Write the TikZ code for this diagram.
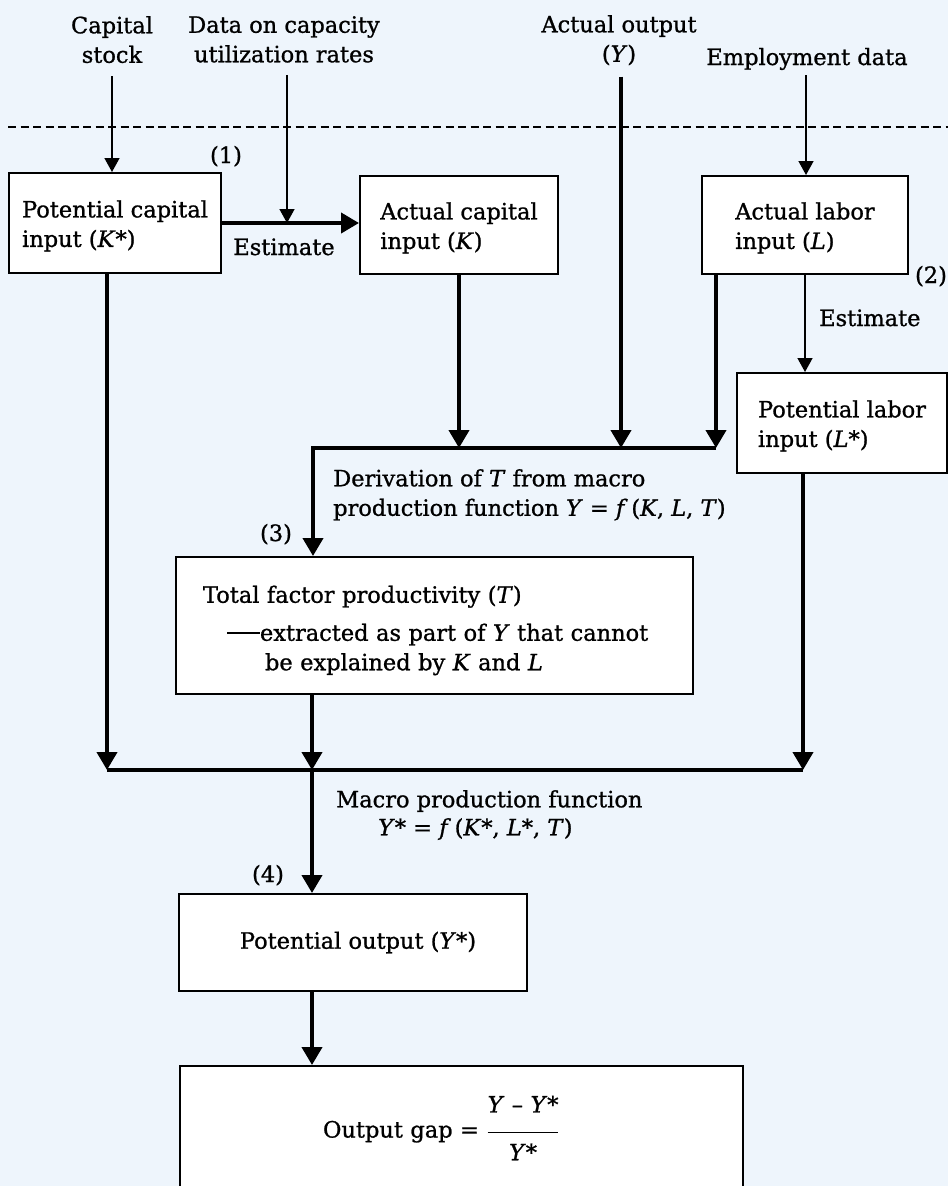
\documentclass[tikz,border=0pt]{standalone}
\usepackage{amsmath}
\usepackage{fontspec}
\setmainfont{DejaVu Serif}[UprightFeatures={FakeBold=1}, ItalicFeatures={FakeBold=1}]
\usetikzlibrary{arrows.meta,calc}
\definecolor{bgblue}{HTML}{EEF5FC}
\newcommand{\vv}[1]{\textit{#1}}
\newcommand{\tp}{\rule{0pt}{23pt}}
\begin{document}
\begin{tikzpicture}[x=1pt,y=-1pt,
  txt/.style={font=\fontsize{22.5pt}{29.5pt}\selectfont, inner sep=0pt},
  box/.style={draw, line width=2pt, fill=white, align=left, inner sep=0pt, font=\fontsize{22.5pt}{29.5pt}\selectfont},
  thinarr/.style={line width=1.5pt, -{Triangle[length=14pt,width=15pt]}},
  thickarr/.style={line width=4pt, -{Triangle[length=18pt,width=20pt]}},
  thickln/.style={line width=4pt},
  sepline/.style={line width=1.2pt, dash pattern=on 8pt off 4.5pt}]
\fill[bgblue] (0,0) rectangle (948,1186);
\useasboundingbox (0,0) rectangle (948,1186);

% separator
\draw[sepline] (8,127) -- (948,127);

% boxes
\node[box, minimum width=212pt, minimum height=100pt] (kstar) at (115,223) {\tp Potential capital\\input (\vv{K}*)};
\node[box, minimum width=198pt, minimum height=98pt] (kact) at (459,225) {\tp Actual capital\\input (\vv{K})};
\node[box, minimum width=206pt, minimum height=98pt] (lact) at (805,225) {\tp Actual labor\\input (\vv{L})};
\node[box, minimum width=210pt, minimum height=100pt] (lstar) at (842,423) {\tp Potential labor\\input (\vv{L}*)};
\node[box, text width=463pt, inner xsep=27pt, minimum height=137pt] (tfp) at (434.5,625.5) {\rule{0pt}{27pt}Total factor productivity (\vv{T})\\[8.5pt]\hspace*{24pt}\rule[6.5pt]{33pt}{1.8pt}extracted as part of \vv{Y} that cannot\\\hspace*{62pt}be explained by \vv{K} and \vv{L}};
\node[box, minimum width=348pt, minimum height=97pt] (ystar) at (353,942.5) {\hspace*{10pt}Potential output (\vv{Y}*)};
\node[box, text width=277pt, inner xsep=143pt, minimum height=124pt] (gap) at (461.5,1128) {Output gap = $\dfrac{\text{\vv{Y} – \vv{Y}*}\rule[-17pt]{0pt}{17pt}}{\rule{0pt}{25pt}\text{\vv{Y}*}}$};

% labels
\node[txt, align=center, anchor=north] (capl) at (112,16) {Capital\\stock};
\node[txt, align=center, anchor=north] (datal) at (284,16) {Data on capacity\\utilization rates};
\node[txt, align=center, anchor=north] (youtl) at (619,15) {Actual output\\(\vv{Y})};
\node[txt, anchor=base] (empl) at (807,65) {Employment data};
\node[txt, anchor=base] (n1) at (226,163) {(1)};
\node[txt, anchor=base] (est1) at (284,255) {Estimate};
\node[txt, anchor=base] (n2) at (931,283) {(2)};
\node[txt, anchor=base west] (est2) at (819,326) {Estimate};
\node[txt, align=left, anchor=north west] (deriv) at (333,469) {Derivation of \vv{T} from macro\\production function \vv{Y} = \vv{f}\,(\vv{K}, \vv{L}, \vv{T})};
\node[txt, anchor=base] (n3) at (276,541) {(3)};
\node[txt, align=left, anchor=north west] (macro) at (336,790) {Macro production function\\[-1.5pt]\hspace*{42pt}\vv{Y}* = \vv{f}\,(\vv{K}*, \vv{L}*, \vv{T})};
\node[txt, anchor=base] (n4) at (268,882) {(4)};

% junction coordinates
\coordinate (j1) at (313,448);
\coordinate (j2) at (312,770);

% thin arrows
\draw[thinarr] ($(capl.south)+(0,13)$) -- (capl.south |- kstar.north);
\draw[thinarr] ($(datal.south)+(3,12)$) coordinate (dtop) -- (dtop |- kstar.east);
\draw[thinarr] ($(empl.south)+(-1,5)$) coordinate (etop) -- (etop |- lact.north);
\draw[thinarr] (lact.south) -- (lact.south |- lstar.north);

% thick connectors, upper part
\draw[thickarr] (kstar.east) -- (kact.west |- kstar.east);
\draw[thickarr] ($(youtl.south)+(2,11)$) coordinate (ytop) -- (ytop |- j1);
\draw[thickarr] (kact.south) -- (kact.south |- j1);
\draw[thickarr] ($(lact.south west)+(15,0)$) coordinate (la) -- (la |- j1);
\draw[thickarr] (la |- j1) -- (j1) -- (j1 |- tfp.north);

% thick connectors, lower part
\draw[thickarr] ($(kstar.south west)+(99,0)$) coordinate (ks) -- (ks |- j2);
\draw[thickarr] (j2 |- tfp.south) -- (j2);
\draw[thickarr] ($(lstar.south west)+(67,0)$) coordinate (ls) -- (ls |- j2);
\draw[thickln] (ks |- j2) -- (ls |- j2);
\draw[thickarr] (j2) -- (j2 |- ystar.north);
\draw[thickarr] (j2 |- ystar.south) -- (j2 |- gap.north);
\end{tikzpicture}
\end{document}
